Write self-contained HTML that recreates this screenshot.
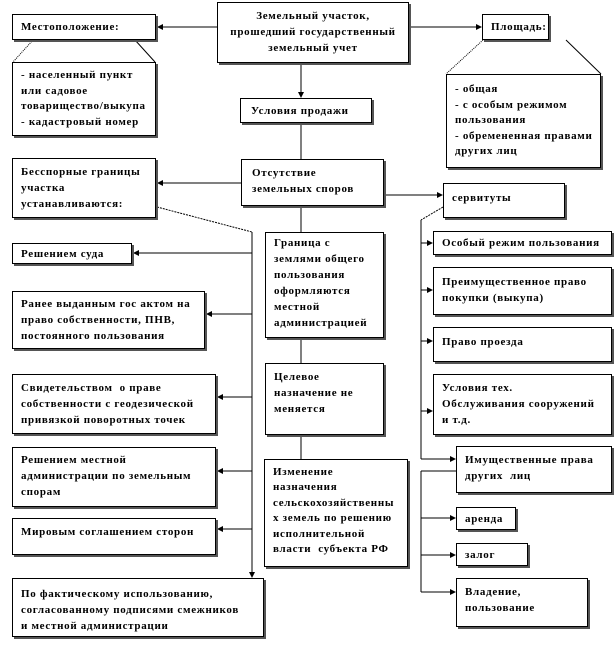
<!DOCTYPE html>
<html><head><meta charset="utf-8">
<style>
html,body{margin:0;padding:0;background:#fff;}
body{width:615px;height:651px;position:relative;overflow:hidden;font-family:"Liberation Serif",serif;}
.b{position:absolute;box-sizing:border-box;border:1px solid #000;background:#fff;box-shadow:2px 2px 0 #555;font-weight:bold;font-size:11px;letter-spacing:0.7px;line-height:16px;padding:3px 0 0 8px;color:#000;white-space:nowrap;font-family:"Liberation Serif",serif;}
.c{text-align:center;padding-left:0;}
svg{position:absolute;left:0;top:0;}
</style></head><body>
<svg width="615" height="651" viewBox="0 0 615 651">
<defs><marker id="a" markerWidth="6" markerHeight="6" refX="5" refY="3" orient="auto" markerUnits="userSpaceOnUse"><path d="M0,0 L6,3 L0,6 z" fill="#000"/></marker></defs>
<g stroke="#000" stroke-width="1" fill="none">
<line x1="217" y1="27" x2="158" y2="27" marker-end="url(#a)"/>
<line x1="409" y1="27" x2="481" y2="27" marker-end="url(#a)"/>
<line x1="301" y1="63" x2="301" y2="97" marker-end="url(#a)"/>
<line x1="301" y1="124" x2="301" y2="159"/>
<line x1="33" y1="40" x2="13" y2="62" stroke-dasharray="1,1"/>
<line x1="135" y1="40" x2="155" y2="62"/>
<line x1="483" y1="40" x2="446" y2="74" stroke-dasharray="1,1"/>
<line x1="566" y1="40" x2="601" y2="74"/>
<line x1="241" y1="183" x2="158" y2="183" marker-end="url(#a)"/>
<line x1="384" y1="195" x2="442" y2="195" marker-end="url(#a)"/>
<line x1="157" y1="207" x2="252" y2="232" stroke-dasharray="2,1"/>
<line x1="252" y1="232" x2="252" y2="577" marker-end="url(#a)"/>
<line x1="301" y1="206" x2="301" y2="232"/>
<line x1="301" y1="338" x2="301" y2="363"/>
<line x1="301" y1="435" x2="301" y2="459"/>
<line x1="252" y1="253" x2="134" y2="253" marker-end="url(#a)"/>
<line x1="252" y1="314" x2="207" y2="314" marker-end="url(#a)"/>
<line x1="252" y1="397" x2="218" y2="397" marker-end="url(#a)"/>
<line x1="252" y1="471" x2="218" y2="471" marker-end="url(#a)"/>
<line x1="252" y1="529" x2="218" y2="529" marker-end="url(#a)"/>
<line x1="443" y1="207" x2="421" y2="220" stroke-dasharray="2,1"/>
<line x1="421" y1="220" x2="421" y2="459"/>
<line x1="421" y1="243" x2="432" y2="243" marker-end="url(#a)"/>
<line x1="421" y1="290" x2="432" y2="290" marker-end="url(#a)"/>
<line x1="421" y1="341" x2="432" y2="341" marker-end="url(#a)"/>
<line x1="421" y1="411" x2="432" y2="411" marker-end="url(#a)"/>
<line x1="421" y1="459" x2="455" y2="459" marker-end="url(#a)"/>
<line x1="456" y1="471" x2="421" y2="471"/>
<line x1="421" y1="471" x2="421" y2="592"/>
<line x1="421" y1="518" x2="455" y2="518" marker-end="url(#a)"/>
<line x1="421" y1="555" x2="455" y2="555" marker-end="url(#a)"/>
<line x1="421" y1="592" x2="455" y2="592" marker-end="url(#a)"/>
</g></svg>

<div class="b c" style="left:217px;top:2px;width:192px;height:61px;padding-top:5px">Земельный участок,<br>прошедший государственный<br>земельный учет</div>
<div class="b" style="left:12px;top:14px;width:144px;height:26px;padding-top:4px">Местоположение:</div>
<div class="b" style="left:12px;top:62px;width:144px;height:74px;padding-top:5px;line-height:15.5px">- населенный пункт<br>или садовое<br>товарищество/выкупа<br>- кадастровый номер</div>
<div class="b" style="left:482px;top:14px;width:67px;height:26px;padding-top:4px">Площадь:</div>
<div class="b" style="left:446px;top:74px;width:155px;height:94px;padding-top:7px;line-height:15.5px">- общая<br>- с особым режимом<br>пользования<br>- обремененная правами<br>других лиц</div>
<div class="b" style="left:240px;top:98px;width:132px;height:25px;padding-top:4px;padding-left:10px">Условия продажи</div>
<div class="b" style="left:241px;top:159px;width:143px;height:47px;padding-top:5px;padding-left:10px">Отсутствие<br>земельных споров</div>
<div class="b" style="left:12px;top:158px;width:144px;height:60px;padding-top:5px">Бесспорные границы<br>участка<br>устанавливаются:</div>
<div class="b" style="left:443px;top:183px;width:122px;height:35px;padding-top:6px">сервитуты</div>
<div class="b" style="left:12px;top:243px;width:120px;height:21px;padding-top:2px">Решением суда</div>
<div class="b" style="left:12px;top:291px;width:193px;height:58px;padding-top:4px">Ранее выданным гос актом на<br>право собственности, ПНВ,<br>постоянного пользования</div>
<div class="b" style="left:265px;top:232px;width:119px;height:106px;padding-top:2px;line-height:16px">Граница с<br>землями общего<br>пользования<br>оформляются<br>местной<br>администрацией</div>
<div class="b" style="left:265px;top:363px;width:119px;height:72px;padding-top:5px">Целевое<br>назначение не<br>меняется</div>
<div class="b" style="left:12px;top:374px;width:204px;height:60px;padding-top:5px">Свидетельством&nbsp; о праве<br>собственности с геодезической<br>привязкой поворотных точек</div>
<div class="b" style="left:433px;top:231px;width:179px;height:24px;padding-top:3px">Особый режим пользования</div>
<div class="b" style="left:433px;top:267px;width:179px;height:48px;padding-top:6px">Преимущественное право<br>покупки (выкупа)</div>
<div class="b" style="left:433px;top:327px;width:179px;height:35px;padding-top:6px">Право проезда</div>
<div class="b" style="left:433px;top:374px;width:179px;height:61px;padding-top:5px">Условия тех.<br>Обслуживания сооружений<br>и т.д.</div>
<div class="b" style="left:12px;top:447px;width:204px;height:60px;padding-top:4px">Решением местной<br>администрации по земельным<br>спорам</div>
<div class="b" style="left:12px;top:518px;width:204px;height:37px;padding-top:5px">Мировым соглашением сторон</div>
<div class="b" style="left:264px;top:459px;width:144px;height:108px;padding-top:5px;line-height:15.4px">Изменение<br>назначения<br>сельскохозяйственны<br>х земель по решению<br>исполнительной<br>власти&nbsp; субъекта РФ</div>
<div class="b" style="left:456px;top:446px;width:156px;height:47px;padding-top:5px">Имущественные права<br>других&nbsp; лиц</div>
<div class="b" style="left:456px;top:507px;width:60px;height:23px;padding-top:3px">аренда</div>
<div class="b" style="left:456px;top:543px;width:72px;height:23px;padding-top:3px">залог</div>
<div class="b" style="left:456px;top:578px;width:132px;height:49px;padding-top:5px">Владение,<br>пользование</div>
<div class="b" style="left:12px;top:578px;width:252px;height:59px;padding-top:7px">По фактическому использованию,<br>согласованному подписями смежников<br>и местной администрации</div>
</body></html>
